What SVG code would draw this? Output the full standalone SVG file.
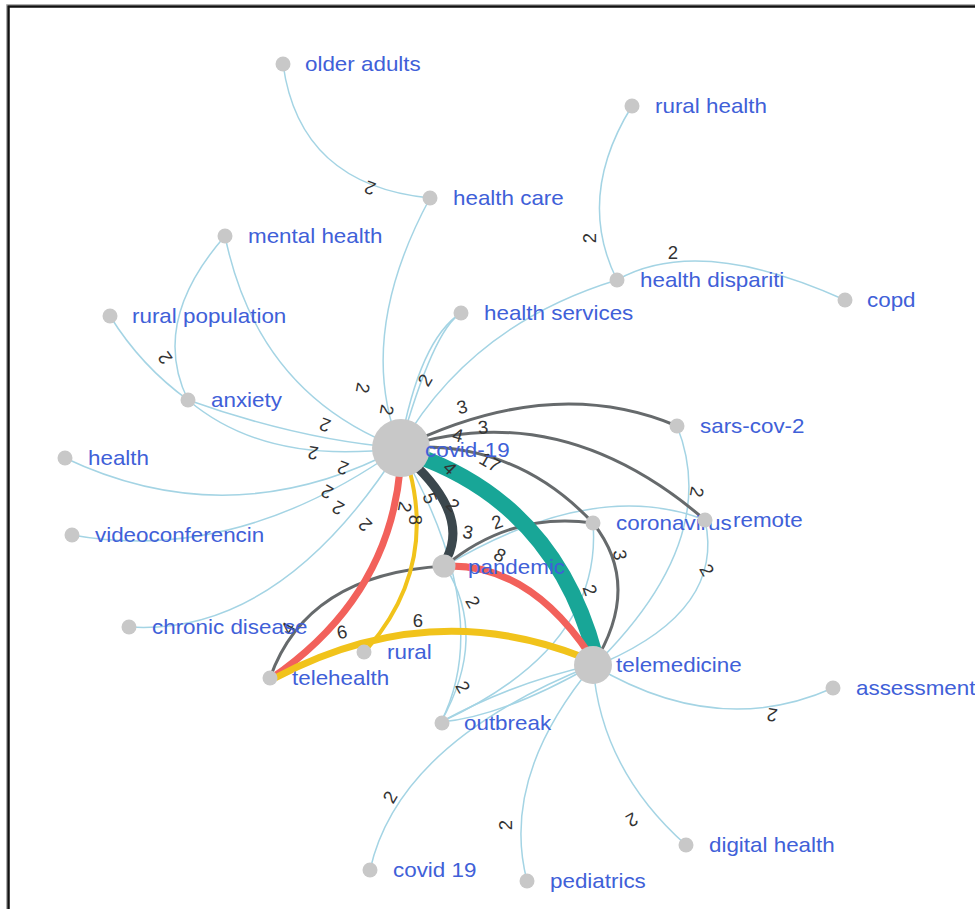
<svg xmlns="http://www.w3.org/2000/svg" width="975" height="909" viewBox="0 0 975 909">
<style>
.lb{fill:none;stroke:#a4d4e4;stroke-width:1.5}
.gr{fill:none;stroke:#666a6c;stroke-width:3}
.thick{fill:none;stroke-linecap:butt}
.dot{fill:#c8c8c8}
.nl{font-family:"Liberation Sans",Arial,sans-serif;font-size:20px;fill:#4060d8}
.el{font-family:"Liberation Sans",Arial,sans-serif;font-size:18.5px;fill:#333;text-anchor:middle;dominant-baseline:central}
</style>
<rect width="975" height="909" fill="#fff"/>
<path d="M6.5,909 V4.5 H975" fill="none" stroke="#b0b0b0" stroke-width="1"/>
<path d="M8.5,909 V6.5 H975" fill="none" stroke="#111" stroke-width="2.5"/>
<g id="edges">
<path class="lb" d="M283,64 Q299.5,185 430,198"/>
<path class="lb" d="M430,198 Q355,337 400,448"/>
<path class="lb" d="M461,313 Q419.5,339.5 400,448"/>
<path class="lb" d="M461,313 Q433.5,329.5 400,448"/>
<path class="lb" d="M617,280 Q470,325 400,448"/>
<path class="lb" d="M632,106 Q575.5,197 617,280"/>
<path class="lb" d="M617,280 Q699,234 845,300"/>
<path class="lb" d="M225,236 Q149.5,322 188,400"/>
<path class="lb" d="M225,236 Q257.5,394 400,448"/>
<path class="lb" d="M110,316 Q141,366 188,400"/>
<path class="lb" d="M188,400 Q300,440 400,448"/>
<path class="lb" d="M188,400 Q266,466 400,448"/>
<path class="lb" d="M65,458 Q231.5,537 400,448"/>
<path class="lb" d="M72,535 Q236,564.5 400,448"/>
<path class="lb" d="M129,627 Q279.5,636.5 400,448"/>
<path class="lb" d="M677,426 Q721.5,537 600,660"/>
<path class="lb" d="M705,520 Q725,609 605,662"/>
<path class="lb" d="M445,566 Q595,477 705,520"/>
<path class="lb" d="M593,523 Q603,647.5 441,722"/>
<path class="lb" d="M400,448 Q495.5,615 441,722"/>
<path class="lb" d="M445,566 Q489,636 441,722"/>
<path class="lb" d="M593,665 Q513,682.5 441,722"/>
<path class="lb" d="M593,665 Q503,716.5 441,722"/>
<path class="lb" d="M593,665 Q717,739.5 833,688"/>
<path class="lb" d="M593,665 Q600.5,769 686,845"/>
<path class="lb" d="M593,665 Q500,777 527,881"/>
<path class="lb" d="M593,665 Q398.5,742.5 370,870"/>
<path class="gr" d="M400,448 Q551.5,373 677,426"/>
<path class="gr" d="M400,448 Q560,395 705,520"/>
<path class="gr" d="M400,448 Q513.5,438.5 593,523"/>
<path class="gr" d="M593,523 Q643,586 593,665"/>
<path class="gr" d="M445,566 Q511,511.5 593,523"/>
<path class="gr" d="M270,678 Q306.5,574 445,566"/>
<path class="thick" d="M412,462 Q468.5,515 447,558" stroke="#3b474d" stroke-width="9"/>
<path class="thick" d="M415,455 Q555,505 595,655" stroke="#18a697" stroke-width="16"/>
<path class="thick" d="M400,470 Q388,598 272,678" stroke="#f2615b" stroke-width="7"/>
<path class="thick" d="M410,472 Q435,570 368,648" stroke="#f1c31b" stroke-width="4"/>
<path class="thick" d="M450,566 Q530,565.5 590,655" stroke="#f2615b" stroke-width="7"/>
<path class="thick" d="M275,678 Q430,596 585,658" stroke="#f1c31b" stroke-width="7"/>
</g>
<g id="edge-labels">
<text class="el" transform="translate(370,188) rotate(200)">2</text>
<text class="el" transform="translate(589,238) rotate(-90)">2</text>
<text class="el" transform="translate(673,252)">2</text>
<text class="el" transform="translate(165,358) rotate(235)">2</text>
<text class="el" transform="translate(363,388) rotate(100)">2</text>
<text class="el" transform="translate(387,410) rotate(100)">2</text>
<text class="el" transform="translate(425,380) rotate(-60)">2</text>
<text class="el" transform="translate(325,425) rotate(200)">2</text>
<text class="el" transform="translate(313,453) rotate(190)">2</text>
<text class="el" transform="translate(343,468) rotate(200)">2</text>
<text class="el" transform="translate(327,492) rotate(210)">2</text>
<text class="el" transform="translate(338,508) rotate(210)">2</text>
<text class="el" transform="translate(365,525) rotate(225)">2</text>
<text class="el" transform="translate(462,407) rotate(-15)">3</text>
<text class="el" transform="translate(483,427) rotate(-5)">3</text>
<text class="el" transform="translate(458,435) rotate(15)">4</text>
<text class="el" transform="translate(490,462) rotate(30)">17</text>
<text class="el" transform="translate(450,468) rotate(45)">4</text>
<text class="el" transform="translate(430,498) rotate(70)">5</text>
<text class="el" transform="translate(453,505) rotate(45)">2</text>
<text class="el" transform="translate(468,532) rotate(10)">3</text>
<text class="el" transform="translate(497,522) rotate(-20)">2</text>
<text class="el" transform="translate(405,507) rotate(100)">2</text>
<text class="el" transform="translate(415,520) rotate(90)">8</text>
<text class="el" transform="translate(500,555) rotate(30)">8</text>
<text class="el" transform="translate(620,555) rotate(80)">3</text>
<text class="el" transform="translate(590,590) rotate(70)">2</text>
<text class="el" transform="translate(473,602) rotate(60)">2</text>
<text class="el" transform="translate(418,620)">6</text>
<text class="el" transform="translate(342,632) rotate(-10)">6</text>
<text class="el" transform="translate(463,687) rotate(60)">2</text>
<text class="el" transform="translate(288,628) rotate(-60)">4</text>
<text class="el" transform="translate(697,492) rotate(100)">2</text>
<text class="el" transform="translate(707,570) rotate(60)">2</text>
<text class="el" transform="translate(772,715) rotate(190)">2</text>
<text class="el" transform="translate(632,820) rotate(150)">2</text>
<text class="el" transform="translate(505,825) rotate(-90)">2</text>
<text class="el" transform="translate(390,797) rotate(-60)">2</text>
</g>
<g id="node-older-adults"><circle class="dot" cx="283" cy="64" r="7.5"/><text class="nl" transform="translate(305,71) scale(1.12,1)">older adults</text></g>
<g id="node-rural-health"><circle class="dot" cx="632" cy="106" r="7.5"/><text class="nl" transform="translate(655,113) scale(1.12,1)">rural health</text></g>
<g id="node-health-care"><circle class="dot" cx="430" cy="198" r="7.5"/><text class="nl" transform="translate(453,205) scale(1.12,1)">health care</text></g>
<g id="node-mental-health"><circle class="dot" cx="225" cy="236" r="7.5"/><text class="nl" transform="translate(248,243) scale(1.12,1)">mental health</text></g>
<g id="node-health-dispariti"><circle class="dot" cx="617" cy="280" r="7.5"/><text class="nl" transform="translate(640,287) scale(1.12,1)">health dispariti</text></g>
<g id="node-copd"><circle class="dot" cx="845" cy="300" r="7.5"/><text class="nl" transform="translate(867,307) scale(1.12,1)">copd</text></g>
<g id="node-rural-population"><circle class="dot" cx="110" cy="316" r="7.5"/><text class="nl" transform="translate(132,323) scale(1.12,1)">rural population</text></g>
<g id="node-health-services"><circle class="dot" cx="461" cy="313" r="7.5"/><text class="nl" transform="translate(484,320) scale(1.12,1)">health services</text></g>
<g id="node-anxiety"><circle class="dot" cx="188" cy="400" r="7.5"/><text class="nl" transform="translate(211,407) scale(1.12,1)">anxiety</text></g>
<g id="node-sars-cov-2"><circle class="dot" cx="677" cy="426" r="7.5"/><text class="nl" transform="translate(700,433) scale(1.12,1)">sars-cov-2</text></g>
<g id="node-health"><circle class="dot" cx="65" cy="458" r="7.5"/><text class="nl" transform="translate(88,465) scale(1.12,1)">health</text></g>
<g id="node-coronavirus"><circle class="dot" cx="593" cy="523" r="7.5"/><text class="nl" transform="translate(616,530) scale(1.12,1)">coronavirus</text></g>
<g id="node-remote"><circle class="dot" cx="705" cy="520" r="7.5"/><text class="nl" transform="translate(733,527) scale(1.12,1)">remote</text></g>
<g id="node-videoconferencin"><circle class="dot" cx="72" cy="535" r="7.5"/><text class="nl" transform="translate(95,542) scale(1.12,1)">videoconferencin</text></g>
<g id="node-chronic-disease"><circle class="dot" cx="129" cy="627" r="7.5"/><text class="nl" transform="translate(152,634) scale(1.12,1)">chronic disease</text></g>
<g id="node-rural"><circle class="dot" cx="364" cy="652" r="7.5"/><text class="nl" transform="translate(387,659) scale(1.12,1)">rural</text></g>
<g id="node-telehealth"><circle class="dot" cx="270" cy="678" r="7.5"/><text class="nl" transform="translate(292,685) scale(1.12,1)">telehealth</text></g>
<g id="node-outbreak"><circle class="dot" cx="442" cy="723" r="7.5"/><text class="nl" transform="translate(464,730) scale(1.12,1)">outbreak</text></g>
<g id="node-assessment"><circle class="dot" cx="833" cy="688" r="7.5"/><text class="nl" transform="translate(856,695) scale(1.12,1)">assessment</text></g>
<g id="node-digital-health"><circle class="dot" cx="686" cy="845" r="7.5"/><text class="nl" transform="translate(709,852) scale(1.12,1)">digital health</text></g>
<g id="node-covid-19-b"><circle class="dot" cx="370" cy="870" r="7.5"/><text class="nl" transform="translate(393,877) scale(1.12,1)">covid 19</text></g>
<g id="node-pediatrics"><circle class="dot" cx="527" cy="881" r="7.5"/><text class="nl" transform="translate(550,888) scale(1.12,1)">pediatrics</text></g>
<g id="node-pandemic"><circle class="dot" cx="444" cy="566" r="11.5"/><text class="nl" transform="translate(468,574) scale(1.12,1)">pandemic</text></g>
<g id="node-telemedicine"><circle class="dot" cx="593" cy="665" r="19"/><text class="nl" transform="translate(616,672) scale(1.12,1)">telemedicine</text></g>
<g id="node-covid-19"><circle class="dot" cx="401" cy="448" r="29"/><text class="nl" transform="translate(425,457) scale(1.12,1)">covid-19</text></g>
</svg>
